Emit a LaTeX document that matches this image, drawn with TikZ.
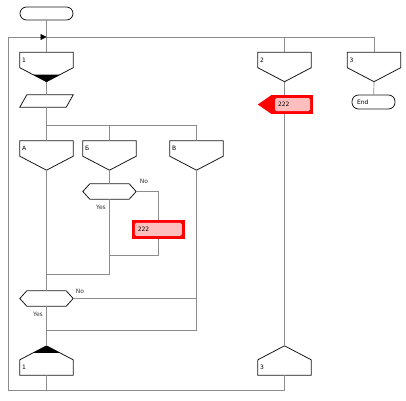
\documentclass[tikz,border=0pt]{standalone}
\usepackage{fontspec}
\setmainfont{DejaVu Sans}
\usetikzlibrary{arrows.meta, positioning, calc}
\definecolor{conngray}{RGB}{140,140,140}
\definecolor{shelfpink}{RGB}{255,190,190}

\begin{document}
\begin{tikzpicture}[x=1pt, y=-1pt, font=\fontsize{6}{7}\selectfont,
    conn/.style={draw=conngray, line width=0.7pt},
    outline/.style={draw=black!90, line width=0.8pt},
    term/.style={outline, rounded corners=6.5pt, minimum height=13pt, minimum width=53pt, inner sep=0pt},
    hdr/.style={minimum width=53pt, minimum height=15pt, text width=49pt, inner xsep=2pt, inner ysep=0pt, align=left},
    iobox/.style={minimum width=46pt, minimum height=12pt, inner sep=0pt},
    hexa/.style={minimum width=39pt, minimum height=15pt, inner sep=0pt},
    action/.style={fill=red, minimum height=19pt, inner xsep=6pt, inner ysep=0pt, align=left,
        path picture={\fill[shelfpink, rounded corners=1.5pt] ([shift={(3pt,3pt)}]path picture bounding box.south west) rectangle ([shift={(-3pt,-3pt)}]path picture bounding box.north east);}},
    lbl/.style={inner sep=0pt, text=black!80}]
    \useasboundingbox (0,0) rectangle (406,400);

    % Nodes
    \node[term] (start) at (46.5,13.5) {};
    \node[hdr] (h1) at (46.5,60) {1};
    \node[hdr] (h2) at (284.5,60) {2};
    \node[hdr] (h3) at (374,60) {3};
    \node[iobox] (io) at (46.5,101) {};
    \node[hdr] (hA) at (46.5,148.5) {А};
    \node[hdr] (hB) at (109.5,148.5) {Б};
    \node[hdr] (hV) at (196.5,148.5) {В};
    \node[hexa] (q1) at (109.5,191.5) {};
    \node[action, text width=41pt] (act1) at (158.3,229.3) {222};
    \node[hexa] (q2) at (46.5,298.5) {};
    \node[action, text width=29pt] (sh1) at (292.5,104.5) {222};
    \node[term, minimum width=43pt, minimum height=14pt, text width=33pt, inner xsep=5pt, align=left] (end) at (373.5,102) {End};
    \node[hdr] (a1) at (46.5,367.5) {1};
    \node[hdr] (a3) at (284.5,367.5) {3};

    \coordinate (j1) at (46.5,37);
    \coordinate (fork) at (46.5,125);
    \coordinate (mB) at (109.5,255);
    \coordinate (mA) at (46.5,274);
    \coordinate (mV) at (46.5,330);
    \coordinate (loop) at (8,390);

    % Shapes
    \foreach \h in {h1, h2, h3, hA, hB, hV} {
        \coordinate (\h-tip) at ($(\h.south)+(0,14)$);
        \draw[outline] (\h.south west) |- (\h.north east) -- (\h.south east) -- (\h-tip) -- cycle;
    }
    \foreach \a in {a1, a3} {
        \coordinate (\a-top) at ($(\a.north)+(0,-14)$);
        \draw[outline] (\a.north west) |- (\a.south east) -- (\a.north east) -- (\a-top) -- cycle;
    }
    \foreach \q in {q1, q2} {
        \coordinate (\q-l) at ($(\q.west)+(-7,0)$);
        \coordinate (\q-r) at ($(\q.east)+(7,0)$);
        \draw[outline] (\q-l) -- (\q.north west) -- (\q.north east) -- (\q-r) -- (\q.south east) -- (\q.south west) -- cycle;
    }
    \draw[outline] ([xshift=-3.5pt]io.south west) -- ([xshift=3.5pt]io.north west) -- ([xshift=3.5pt]io.north east) -- ([xshift=-3.5pt]io.south east) -- cycle;
    \fill ($(h1-tip)!0.5!(h1.south west)$) -- ($(h1-tip)!0.5!(h1.south east)$) -- (h1-tip) -- cycle;
    \fill ($(a1-top)!0.5!(a1.north west)$) -- ($(a1-top)!0.5!(a1.north east)$) -- (a1-top) -- cycle;
    \fill[red] (sh1.north west) -- ($(sh1.west)+(-14,0)$) -- (sh1.south west) -- cycle;

    % Labels
    \node[lbl] (no1) at (144,181) {No};
    \node[lbl] (yes1) at (101,207) {Yes};
    \node[lbl] (no2) at (80,291) {No};
    \node[lbl] (yes2) at (38,314) {Yes};

    % Connectors
    \draw[conn] (start) -- (h1);
    \draw[conn] (j1) -| (h3.north);
    \draw[conn] (h2.north) -- (h2.north |- j1);
    \draw[conn] (h1-tip) -- (io);
    \draw[conn] (io) -- (hA);
    \draw[conn] (fork) -| (hV.north);
    \draw[conn] (hB.north) -- (hB.north |- fork);
    \draw[conn] (hB-tip) -- (q1);
    \draw[conn] (q1-r) -| (act1.north);
    \draw[conn] (act1.south) |- (mB);
    \draw[conn] (q1.south) |- (mA);
    \draw[conn] (hA-tip) -- (q2);
    \draw[conn] (q2-r) -- (q2-r -| hV-tip);
    \draw[conn] (hV-tip) |- (mV);
    \draw[conn] (q2) -- (a1-top);
    \draw[conn] (a1.south) -- (a1.south |- loop);
    \draw[conn] (h2-tip) -- (h2-tip |- sh1.north);
    \draw[conn] (h2-tip |- sh1.south) -- (a3-top);
    \draw[conn] (h3-tip) -- (end);
    \draw[conn, -{Triangle[length=6pt, width=6pt, color=black]}] (a3.south) |- (loop) |- (j1);
\end{tikzpicture}
\end{document}
